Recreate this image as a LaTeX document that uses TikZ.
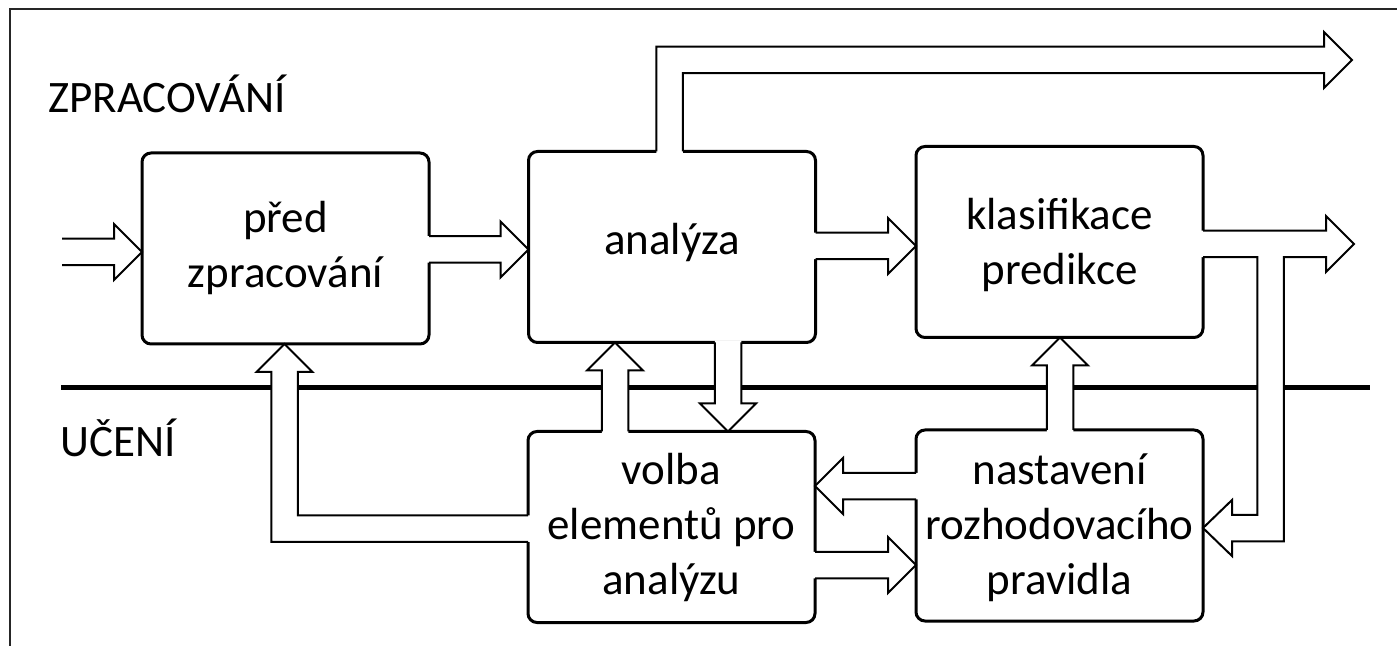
\documentclass[tikz,border=0pt]{standalone}
\usepackage{fontspec}
\setmainfont{Carlito}
\usetikzlibrary{calc}
\tikzset{
  box/.style={draw, line width=1.5pt, rounded corners=4.5pt, minimum width=143.5pt,
    minimum height=95.5pt, inner sep=0pt, outer sep=0pt, fill=white},
  txt/.style={inner sep=0pt, align=center, font=\fontsize{22.5}{27.5}\selectfont},
  lbl/.style={inner sep=0pt, anchor=base west, font=\fontsize{22.5}{27.5}\selectfont},
  arr/.style={draw, line width=1pt, line join=miter, miter limit=10},
  divider/.style={line width=2.5pt},
  frameline/.style={line width=1pt, black!85},
}
% straight hollow block arrow: #1 source, #2 tip, #3 direction, #4 perpendicular
\newcommand\BArrow[4]{%
  \fill[white] ($(#1)-2*(#3)-13.25*(#4)$) -- ($(#2)-28*(#3)-13.25*(#4)$)
    -- ($(#2)-28*(#3)-28*(#4)$) -- (#2) -- ($(#2)-28*(#3)+28*(#4)$)
    -- ($(#2)-28*(#3)+13.25*(#4)$) -- ($(#1)-2*(#3)+13.25*(#4)$) -- cycle;
  \draw[arr] ($(#1)-13.25*(#4)$) -- ($(#2)-28*(#3)-13.25*(#4)$)
    -- ($(#2)-28*(#3)-28*(#4)$) -- (#2) -- ($(#2)-28*(#3)+28*(#4)$)
    -- ($(#2)-28*(#3)+13.25*(#4)$) -- ($(#1)+13.25*(#4)$);
}
\begin{document}
\begin{tikzpicture}[x=0.5pt, y=-0.5pt]
\useasboundingbox (0,0) rectangle (1397,646);
\fill[white] (0,0) rectangle (1397,646);
\draw[frameline] (10,646) -- (10,9) -- (1397,9);

% labels
\node[lbl] (zpr) at (48,113) {ZPRACOVÁNÍ};
\node[lbl] (uce) at (60,457) {UČENÍ};

% divider
\draw[divider] (61,388) -- (1370,388);

% boxes
\node[box] (pred)  at (285.5,248.5) {};
\node[box] (ana)   at (672,247) {};
\node[box] (klas)  at (1059.5,242) {};
\node[box] (volba) at (671.5,527) {};
\node[box] (nast)  at (1059.5,525.5) {};

\node[txt] (predt)  at (285.5,248) {před\\zpracování};
\node[txt] (anat)   at (672,243) {analýza};
\node[txt] (klast)  at (1059.5,245.5) {klasifikace\\predikce};
\node[txt] (volbat) at (671.5,528) {volba\\elementů pro\\analýzu};
\node[txt] (nastt)  at (1059.5,527.5) {nastavení\\rozhodovacího\\pravidla};

% connector end points
\coordinate (in0) at (62,252);
\coordinate (in1) at (pred.west |- 0,252);
\coordinate (s1) at (pred.east |- 0,249.5);
\coordinate (t1) at (ana.west |- 0,249.5);
\coordinate (s2) at (ana.east |- 0,246);
\coordinate (t2) at (klas.west |- 0,246);
\coordinate (s3) at (ana.south -| 728,0);
\coordinate (t3) at (volba.north -| 728,0);
\coordinate (s4) at (volba.north -| 615,0);
\coordinate (t4) at (ana.south -| 615,0);
\coordinate (s5) at (nast.north -| 1060,0);
\coordinate (t5) at (klas.south -| 1060,0);
\coordinate (s6) at (nast.west |- 0,486);
\coordinate (t6) at (volba.east |- 0,486);
\coordinate (s7) at (volba.east |- 0,565);
\coordinate (t7) at (nast.west |- 0,565);

\BArrow{in0}{in1}{1,0}{0,1}
\BArrow{s1}{t1}{1,0}{0,1}
\BArrow{s2}{t2}{1,0}{0,1}
\BArrow{s3}{t3}{0,1}{1,0}
\BArrow{s4}{t4}{0,-1}{1,0}
\BArrow{s5}{t5}{0,-1}{1,0}
\BArrow{s6}{t6}{-1,0}{0,1}
\BArrow{s7}{t7}{1,0}{0,1}

% top output from analysis
\coordinate (outtop) at (1352,60);
\fill[white] ($(ana.north -| 656.25,0)+(0,2)$) -- (656.25,46.75) -- (1324,46.75) -- (1324,32)
  -- (outtop) -- (1324,88) -- (1324,73.25) -- (682.75,73.25) -- ($(ana.north -| 682.75,0)+(0,2)$) -- cycle;
\draw[arr] (ana.north -| 656.25,0) -- (656.25,46.75) -- (1324,46.75) -- (1324,32)
  -- (outtop) -- (1324,88) -- (1324,73.25) -- (682.75,73.25) -- (ana.north -| 682.75,0);

% output of classification with feedback branch to decision rule
\coordinate (outmid) at (1354,244);
\coordinate (fbtip) at (nast.east |- 0,528);
\fill[white] ($(klas.east |- 0,230.75)+(-2,0)$) -- (1326,230.75) -- (1326,216) -- (outmid)
  -- (1326,272) -- (1326,257.25) -- (1283.75,257.25) -- (1283.75,541.25) -- (1232,541.25)
  -- (1232,556) -- (fbtip) -- (1232,500) -- (1232,514.75) -- (1257.25,514.75)
  -- (1257.25,257.25) -- ($(klas.east |- 0,257.25)+(-2,0)$) -- cycle;
\draw[arr] (klas.east |- 0,230.75) -- (1326,230.75) -- (1326,216) -- (outmid)
  -- (1326,272) -- (1326,257.25) -- (1283.75,257.25) -- (1283.75,541.25) -- (1232,541.25)
  -- (1232,556) -- (fbtip) -- (1232,500) -- (1232,514.75) -- (1257.25,514.75)
  -- (1257.25,257.25) -- (klas.east |- 0,257.25);

% feedback from element selection to preprocessing
\coordinate (fbpred) at (pred.south -| 284.5,0);
\fill[white] ($(volba.west |- 0,515.25)+(2,0)$) -- (297.75,515.25) -- (297.75,372)
  -- (312.5,372) -- (fbpred) -- (256.5,372) -- (271.25,372) -- (271.25,541.75)
  -- ($(volba.west |- 0,541.75)+(2,0)$) -- cycle;
\draw[arr] (volba.west |- 0,515.25) -- (297.75,515.25) -- (297.75,372)
  -- (312.5,372) -- (fbpred) -- (256.5,372) -- (271.25,372) -- (271.25,541.75)
  -- (volba.west |- 0,541.75);
\end{tikzpicture}
\end{document}
